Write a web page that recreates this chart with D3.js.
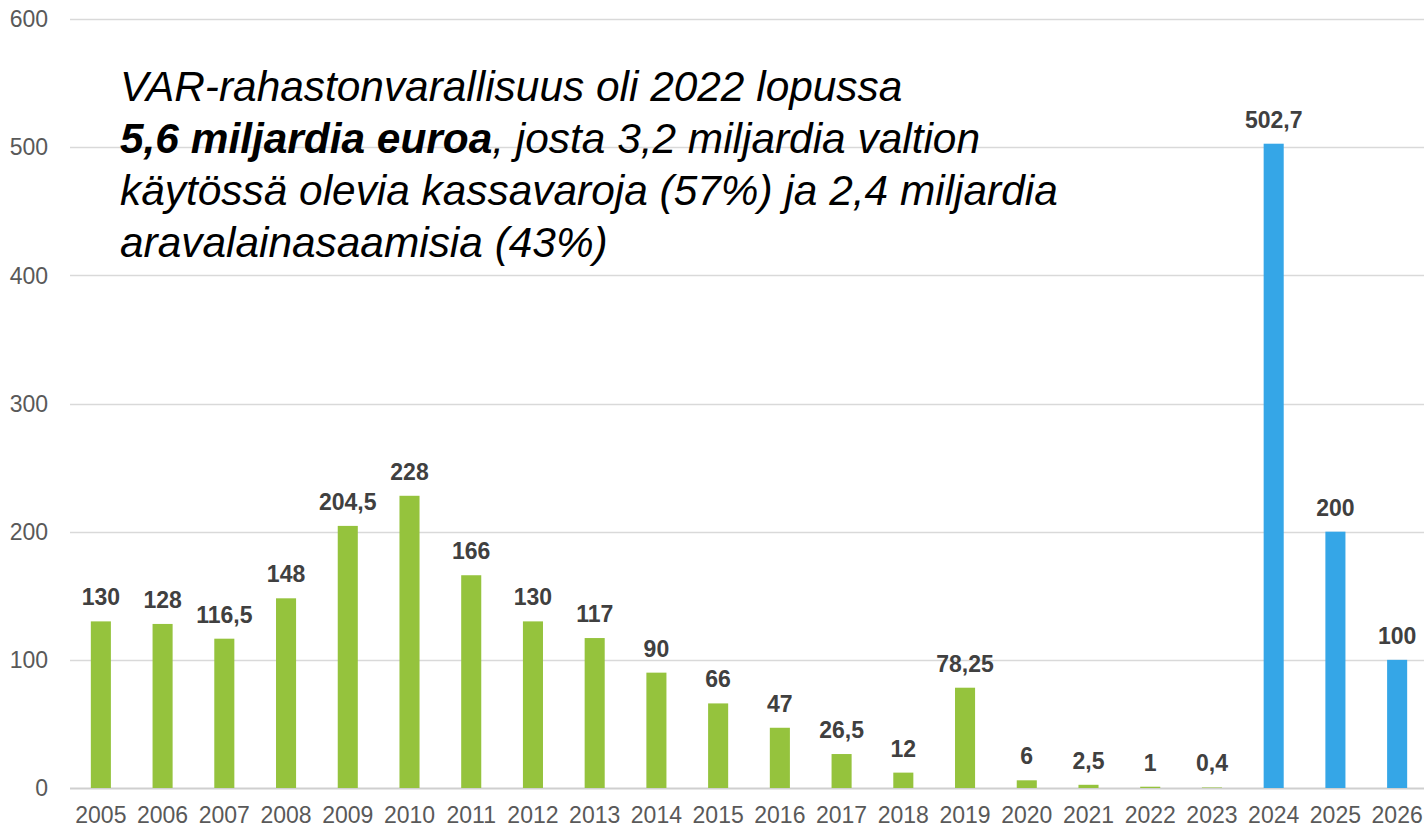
<!DOCTYPE html>
<html>
<head>
<meta charset="utf-8">
<script src="https://cdn.jsdelivr.net/npm/d3@7"></script>
<style>
  html, body { margin: 0; padding: 0; background: #fff; overflow: hidden; }
  svg { display: block; }
</style>
</head>
<body>
<script>
const years = ["2005", "2006", "2007", "2008", "2009", "2010", "2011", "2012", "2013", "2014", "2015",
    "2016", "2017", "2018", "2019", "2020", "2021", "2022", "2023", "2024", "2025", "2026"];
const values = [130, 128, 116.5, 148, 204.5, 228, 166, 130, 117, 90, 66,
    47, 26.5, 12, 78.25, 6, 2.5, 1, 0.4, 502.7, 200, 100];
// first 19 are realised, last 3 are planned
const kinds = ["actual", "actual", "actual", "actual", "actual", "actual", "actual", "actual", "actual", "actual", "actual",
    "actual", "actual", "actual", "actual", "actual", "actual", "actual", "actual", "plan", "plan", "plan"];
const yTicks = [0, 100, 200, 300, 400, 500, 600];

const colors = { actual: "#95c33d", plan: "#35a6e7" };

const width = 1424;
const height = 828;
const margin = { top: 19, right: -4, bottom: 40, left: 70 };
const font = "'Liberation Sans', Arial, sans-serif";

const data = years.map((y, i) => ({ year: y, value: values[i], kind: kinds[i] }));

const svg = d3.select("body")
    .append("svg")
    .attr("width", width)
    .attr("height", height);

const x = d3.scaleBand()
    .domain(years)
    .range([margin.left, width - margin.right])
    .paddingInner(0.675)
    .paddingOuter(0.3375);

const y = d3.scaleLinear()
    .domain([0, 600])
    .range([height - margin.bottom, margin.top]);

// gridlines
svg.append("g")
    .selectAll("line")
    .data(yTicks)
    .enter()
    .append("line")
    .attr("x1", margin.left)
    .attr("x2", width)
    .attr("y1", d => Math.round(y(d)) + 0.5)
    .attr("y2", d => Math.round(y(d)) + 0.5)
    .attr("stroke", d => d === 0 ? "#cfcfcf" : "#d9d9d9")
    .attr("stroke-width", d => d === 0 ? 2 : 1.5);

// y tick labels
svg.append("g")
    .selectAll("text")
    .data(yTicks)
    .enter()
    .append("text")
    .attr("x", 48)
    .attr("y", d => y(d))
    .attr("dy", "0.36em")
    .attr("text-anchor", "end")
    .attr("font-family", font)
    .attr("font-size", "23px")
    .attr("fill", "#595959")
    .text(d => d);

// bars
svg.append("g")
    .selectAll("rect")
    .data(data)
    .enter()
    .append("rect")
    .attr("x", d => x(d.year))
    .attr("width", x.bandwidth())
    .attr("y", d => y(d.value))
    .attr("height", d => y(0) - y(d.value))
    .attr("fill", d => colors[d.kind]);

// value labels
svg.append("g")
    .selectAll("text")
    .data(data)
    .enter()
    .append("text")
    .attr("x", d => x(d.year) + x.bandwidth() / 2)
    .attr("y", d => y(d.value) - 16)
    .attr("text-anchor", "middle")
    .attr("font-family", font)
    .attr("font-size", "23px")
    .attr("font-weight", "bold")
    .attr("fill", "#404040")
    .text(d => String(d.value).replace(".", ","));

// x labels
svg.append("g")
    .selectAll("text")
    .data(years)
    .enter()
    .append("text")
    .attr("x", d => x(d) + x.bandwidth() / 2)
    .attr("y", 823)
    .attr("text-anchor", "middle")
    .attr("font-family", font)
    .attr("font-size", "23px")
    .attr("fill", "#595959")
    .text(d => d);

// annotation
const note = svg.append("text")
    .attr("font-family", font)
    .attr("font-size", "42.4px")
    .attr("font-style", "italic")
    .attr("fill", "#000");

note.append("tspan").attr("x", 120).attr("y", 101)
    .text("VAR-rahastonvarallisuus oli 2022 lopussa");
note.append("tspan").attr("x", 120).attr("y", 153)
    .attr("font-weight", "bold")
    .text("5,6 miljardia euroa");
note.append("tspan")
    .text(", josta 3,2 miljardia valtion");
note.append("tspan").attr("x", 120).attr("y", 205)
    .text("käytössä olevia kassavaroja (57%) ja 2,4 miljardia");
note.append("tspan").attr("x", 120).attr("y", 257)
    .text("aravalainasaamisia (43%)");
</script>
</body>
</html>
